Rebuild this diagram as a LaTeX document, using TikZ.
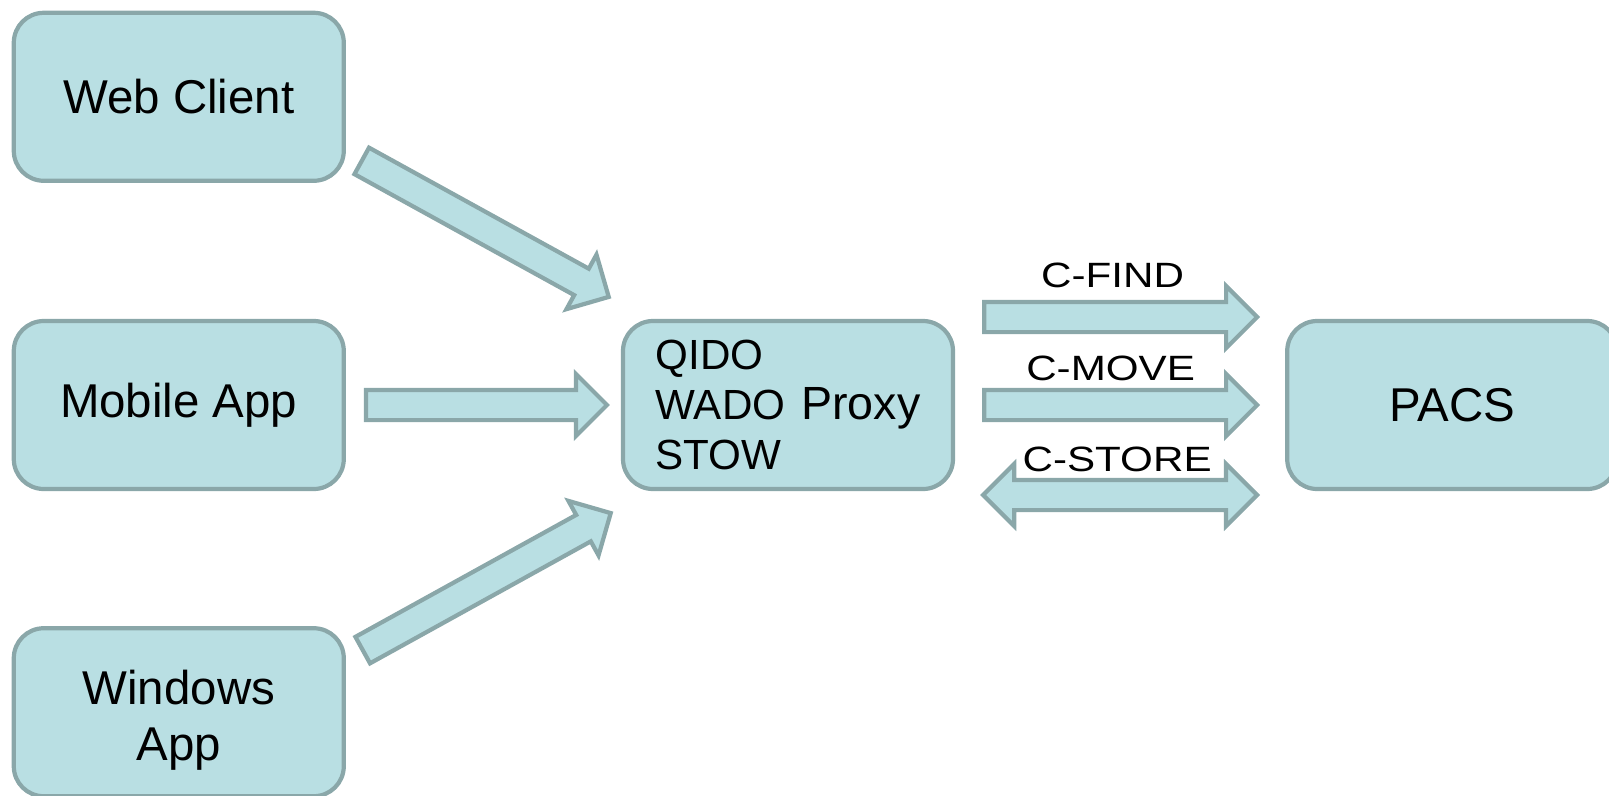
\documentclass[tikz,border=0pt]{standalone}
\usepackage{fontspec}
\setmainfont{Liberation Sans}
\newfontfamily\widefont[FakeStretch=1.2]{Liberation Sans}
\usetikzlibrary{positioning,calc,shapes.arrows}

\definecolor{boxfill}{HTML}{B9DFE3}
\definecolor{boxline}{HTML}{8AA7A9}

\tikzset{
  box/.style={draw=boxline, fill=boxfill, line width=2.4pt, rounded corners=0.6cm,
    minimum width=6.6cm, minimum height=3.36cm, align=center,
    font=\fontsize{27}{32}\selectfont},
  fatarrow/.style={single arrow, draw=boxline, fill=boxfill, line width=2.4pt,
    inner xsep=0pt, inner ysep=0.26cm, single arrow head extend=0.32cm,
    single arrow tip angle=90, anchor=tail},
  twinarrow/.style={double arrow, draw=boxline, fill=boxfill, line width=2.4pt,
    inner xsep=0pt, inner ysep=0.26cm, double arrow head extend=0.32cm,
    double arrow tip angle=90, anchor=tip 2},
  msg/.style={anchor=base, font=\widefont\fontsize{20}{22}\selectfont}
}

% block arrow from #2 to #3
\newcommand{\blockarrow}[3][fatarrow]{%
  \path let \p1=($(#3)-(#2)$), \n1={atan2(\y1,\x1)}, \n2={veclen(\x1,\y1)} in
    node[#1, minimum height=\n2, rotate=\n1] at (#2) {};}

\begin{document}
\begin{tikzpicture}
\useasboundingbox (0,0) rectangle (32.18,-15.9);

\node[box, align=left, font=\fontsize{24}{28.3}\selectfont] (proxy) at (15.76,-8.1)
  {QIDO\\WADO\hspace{0.32cm}{\fontsize{26.5}{28.3}\selectfont Proxy}\\STOW};
\node[box, left=5.5cm of proxy] (mobile) {Mobile App};
\node[box, above=2.72cm of mobile] (web) {Web Client};
\node[box, below=2.7cm of mobile, text height=60.5pt] (windows) {Windows\\App};
\node[box, right=6.6cm of proxy] (pacs) {PACS};

% clients -> proxy
\coordinate (webtail) at ($(web.south east)+(0.28,0.46)$);
\coordinate (webtip) at ($(proxy.north west)+(-0.28,0.46)$);
\coordinate (mobiletail) at ($(mobile.east)+(0.36,0)$);
\coordinate (mobiletip) at ($(proxy.west)+(-0.32,0)$);
\coordinate (wintail) at ($(windows.north east)+(0.30,-0.50)$);
\coordinate (wintip) at ($(proxy.south west)+(-0.24,-0.46)$);
\blockarrow{webtail}{webtip}
\blockarrow{mobiletail}{mobiletip}
\blockarrow{wintail}{wintip}

% proxy <-> pacs
\coordinate (findtail) at ($(proxy.east)+(0.54,1.76)$);
\coordinate (findtip) at ($(pacs.west)+(-0.6,1.76)$);
\coordinate (movetail) at ($(proxy.east)+(0.54,0)$);
\coordinate (movetip) at ($(pacs.west)+(-0.6,0)$);
\coordinate (storetail) at ($(proxy.east)+(0.5,-1.8)$);
\coordinate (storetip) at ($(pacs.west)+(-0.62,-1.8)$);
\blockarrow{findtail}{findtip}
\blockarrow{movetail}{movetip}
\blockarrow[twinarrow]{storetail}{storetip}

\node[msg] (findlbl) at ($(findtail)!0.5!(findtip)+(-0.12,0.6)$) {C-FIND};
\node[msg] (movelbl) at ($(movetail)!0.5!(movetip)+(-0.16,0.5)$) {C-MOVE};
\node[msg] (storelbl) at ($(storetail)!0.5!(storetip)+(0,0.48)$) {C-STORE};
\end{tikzpicture}
\end{document}
